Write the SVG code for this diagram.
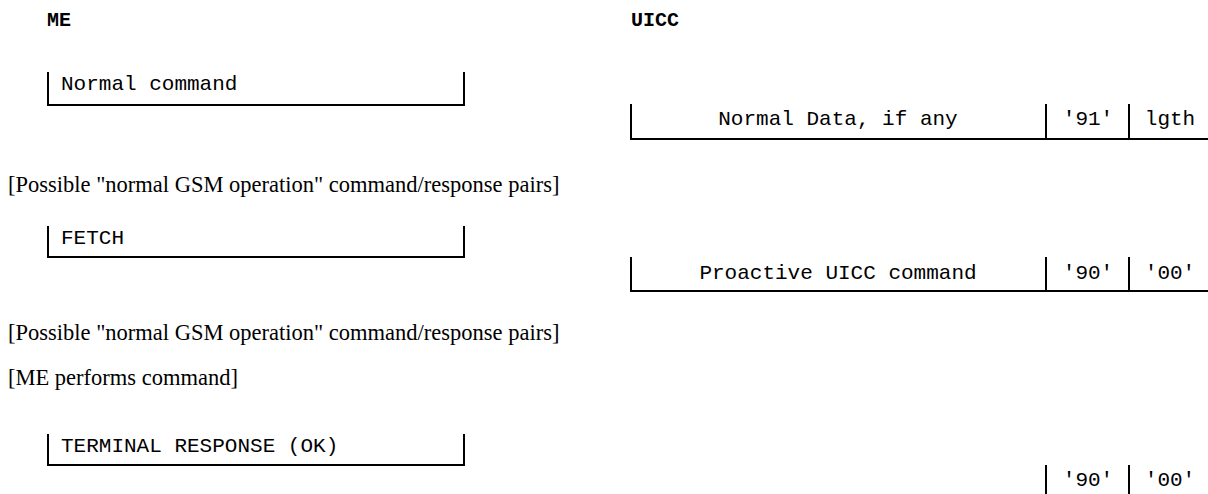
<svg xmlns="http://www.w3.org/2000/svg" width="1208" height="494" viewBox="0 0 1208 494">
<style>
.ln{fill:none;stroke:#000;stroke-width:2}
.hd{font-family:"Liberation Mono","Courier New",monospace;font-weight:bold;font-size:20px;fill:#000}
.m{font-family:"Liberation Mono","Courier New",monospace;font-size:21px;fill:#000}
.t{font-family:"Liberation Serif","Times New Roman",serif;font-size:22.5px;fill:#000}
.c{text-anchor:middle}
</style>
<rect width="1208" height="494" fill="#fff"/>
<g id="me-header"><text class="hd" x="47" y="26">ME</text></g>
<g id="uicc-header"><text class="hd" x="631" y="26">UICC</text></g>

<g id="normal-command">
<path class="ln" d="M48,72 V105 H464 V72"/>
<text class="m" x="61" y="90">Normal command</text>
</g>
<g id="normal-data">
<path class="ln" d="M631,104 V139 H1208 M1046,104 V139 M1129,104 V139"/>
<text class="m c" x="838" y="125">Normal Data, if any</text>
<text class="m c" x="1088" y="125">'91'</text>
<text class="m c" x="1170" y="125">lgth</text>
</g>
<g id="note-1"><text class="t" x="8" y="192">[Possible "normal GSM operation" command/response pairs]</text></g>

<g id="fetch">
<path class="ln" d="M48,226 V257 H464 V226"/>
<text class="m" x="61" y="244">FETCH</text>
</g>
<g id="proactive">
<path class="ln" d="M631,257 V291 H1208 M1046,257 V291 M1129,257 V291"/>
<text class="m c" x="838" y="279">Proactive UICC command</text>
<text class="m c" x="1088" y="279">'90'</text>
<text class="m c" x="1170" y="279">'00'</text>
</g>
<g id="note-2"><text class="t" x="8" y="340">[Possible "normal GSM operation" command/response pairs]</text></g>
<g id="note-3"><text class="t" x="8" y="385">[ME performs command]</text></g>

<g id="terminal-response">
<path class="ln" d="M48,434 V465 H464 V434"/>
<text class="m" x="61" y="452">TERMINAL RESPONSE (OK)</text>
</g>
<g id="status">
<path class="ln" d="M1046,465 V494 M1129,465 V494"/>
<text class="m c" x="1088" y="486">'90'</text>
<text class="m c" x="1170" y="486">'00'</text>
</g>
</svg>
